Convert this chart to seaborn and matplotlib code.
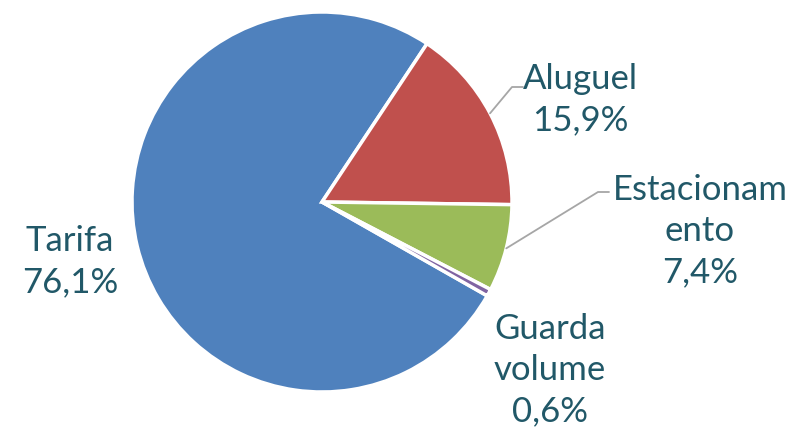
import numpy as np
import seaborn as sns
import matplotlib.pyplot as plt

# data
categories = ["Tarifa", "Aluguel", "Estacionamento", "Guarda volume"]
display_names = ["Tarifa", "Aluguel", "Estacionam\nento", "Guarda\nvolume"]
shares = [76.1, 15.9, 7.4, 0.6]
colors = ["#4F81BD", "#C0504D", "#9BBB59", "#8064A2"]

sns.set_theme(style="white")
plt.rcParams['font.family'] = ['Lato', 'DejaVu Sans']

W, H = 793, 431
fig = plt.figure(figsize=(W / 100, H / 100), dpi=100)
ax = fig.add_axes([0, 0, 1, 1])

# pie geometry in pixel units (y up)
cx, cy, r = 322, H - 203, 190
wedges, _ = ax.pie(
    shares,
    colors=colors,
    startangle=330.4,
    counterclock=False,
    center=(cx, cy),
    radius=r,
    wedgeprops=dict(edgecolor="white", linewidth=2.5),
)

text_color = "#215868"
# label block centres (pixel coords, y down) and whether a leader line is drawn
label_pos = [(70, 262), (580, 100), (700, 231), (550, 370)]
leader = [False, True, True, False]
elbow = [None, (512, 88), (598, 193)]

for i, w in enumerate(wedges):
    pct = f"{shares[i]:.1f}".replace(".", ",") + "%"
    lx, ly = label_pos[i]
    ax.text(lx, H - ly, display_names[i] + "\n" + pct, ha="center", va="center",
            fontsize=25, color=text_color, linespacing=1.36)
    if leader[i]:
        mid = np.deg2rad((w.theta1 + w.theta2) / 2)
        x0, y0 = cx + r * np.cos(mid), cy + r * np.sin(mid)
        ex, ey = elbow[i]
        ax.plot([x0, ex, ex + 11], [y0, H - ey, H - ey], color="#A6A6A6", lw=1.3)

ax.set_xlim(0, W)
ax.set_ylim(0, H)
ax.set_aspect("equal")
ax.axis("off")

fig.savefig("out.png", dpi=100)
